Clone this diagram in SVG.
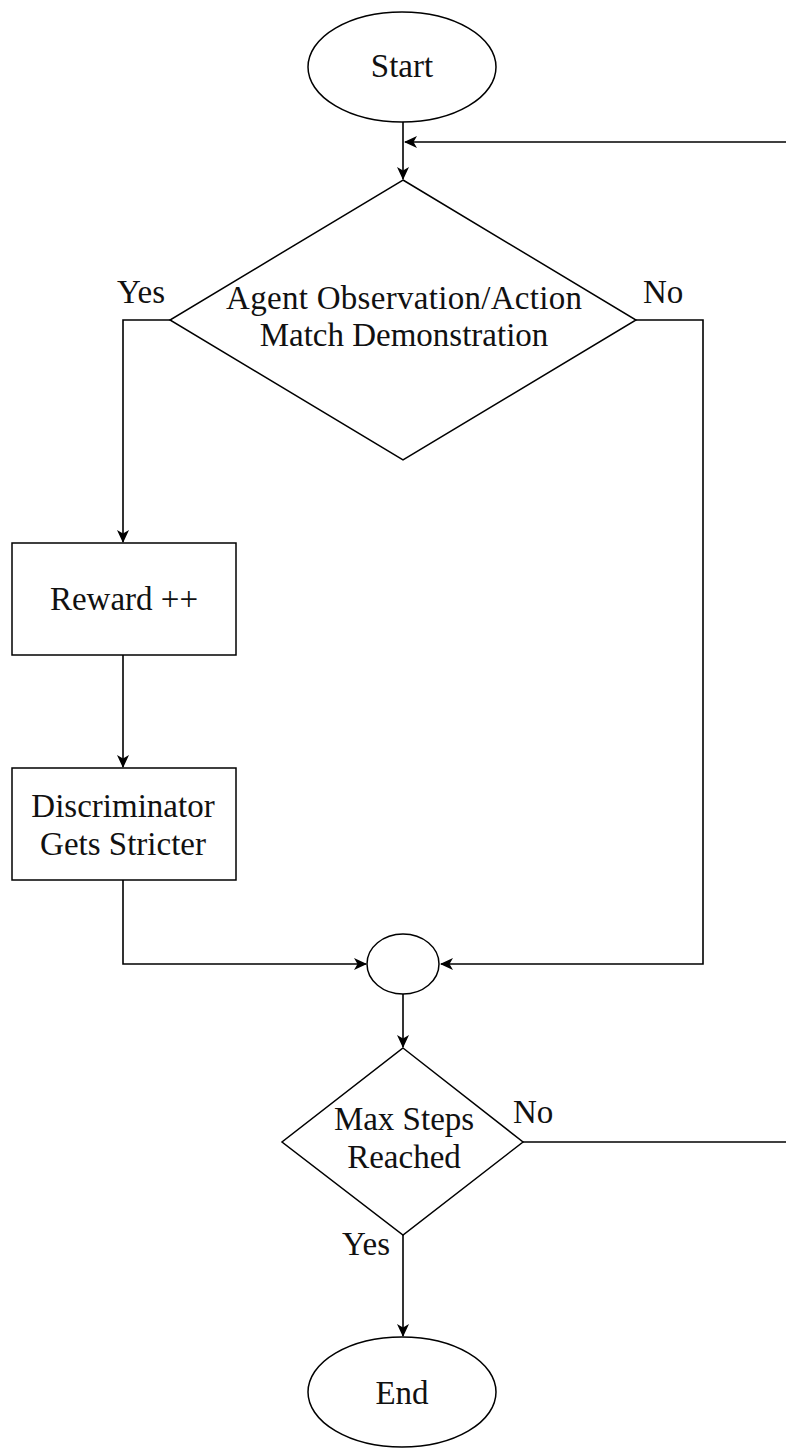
<svg xmlns="http://www.w3.org/2000/svg" width="786" height="1448" viewBox="0 0 786 1448">
<style>
.s{fill:#fff;stroke:#000;stroke-width:1.5}
.c{fill:none;stroke:#000;stroke-width:1.6}
text{font-family:"Liberation Serif","Times New Roman",serif;font-size:33px;fill:#111}
.m{text-anchor:middle}
</style>
<defs>
<marker id="a" markerWidth="14" markerHeight="14" refX="12" refY="6" orient="auto" markerUnits="userSpaceOnUse">
<path d="M0,0 L13,6 L0,12 L3.5,6 z" fill="#000"/>
</marker>
</defs>
<rect width="786" height="1448" fill="#fff"/>
<g id="connectors">
<path class="c" d="M403,122 V179" marker-end="url(#a)"/>
<path class="c" d="M786,142 H405" marker-end="url(#a)"/>
<path class="c" d="M170,320 H123 V542" marker-end="url(#a)"/>
<path class="c" d="M123,655 V767" marker-end="url(#a)"/>
<path class="c" d="M123,880 V964 H366" marker-end="url(#a)"/>
<path class="c" d="M636,320 H703 V964 H441" marker-end="url(#a)"/>
<path class="c" d="M403,994 V1047" marker-end="url(#a)"/>
<path class="c" d="M523,1142 H786"/>
<path class="c" d="M403,1235 V1336" marker-end="url(#a)"/>
<text x="117" y="303">Yes</text>
<text x="643" y="303">No</text>
<text x="513" y="1123">No</text>
<text x="342" y="1255">Yes</text>
</g>
<g id="start">
<ellipse class="s" cx="402" cy="67" rx="94" ry="55"/>
<text class="m" x="402" y="77">Start</text>
</g>
<g id="decision1">
<polygon class="s" points="403,180 636,320 403,460 170,320"/>
<text class="m" x="404" y="309" textLength="356">Agent Observation/Action</text>
<text class="m" x="404" y="346">Match Demonstration</text>
</g>
<g id="reward">
<rect class="s" x="12" y="543" width="224" height="112"/>
<text class="m" x="124" y="610">Reward ++</text>
</g>
<g id="discriminator">
<rect class="s" x="12" y="768" width="224" height="112"/>
<text class="m" x="123" y="817">Discriminator</text>
<text class="m" x="123" y="855">Gets Stricter</text>
</g>
<g id="merge">
<ellipse class="s" cx="403" cy="964" rx="36" ry="30"/>
</g>
<g id="decision2">
<polygon class="s" points="403,1048 523,1142 403,1235 282,1142"/>
<text class="m" x="404" y="1130">Max Steps</text>
<text class="m" x="404" y="1168">Reached</text>
</g>
<g id="end">
<ellipse class="s" cx="402" cy="1392" rx="94" ry="55"/>
<text class="m" x="402" y="1404">End</text>
</g>
</svg>
